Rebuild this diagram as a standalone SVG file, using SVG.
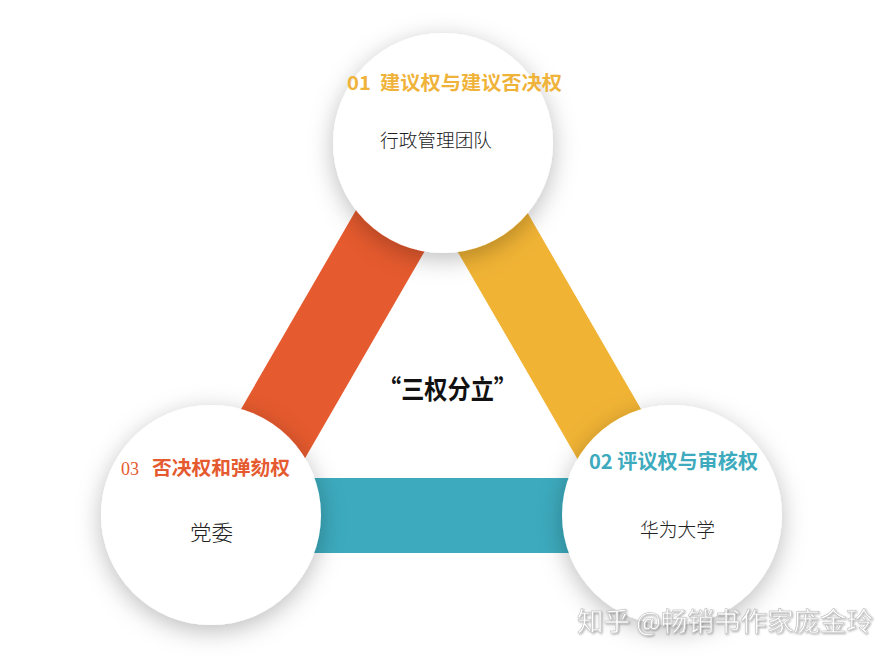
<svg xmlns="http://www.w3.org/2000/svg" width="896" height="658" viewBox="0 0 896 658">
<defs>
<filter id="sh" x="-40%" y="-40%" width="180%" height="180%">
<feDropShadow dx="0" dy="6" stdDeviation="12" flood-color="#000" flood-opacity="0.26"/>
</filter>
<filter id="wsh" x="-10%" y="-30%" width="120%" height="160%">
<feDropShadow dx="1" dy="1" stdDeviation="0.8" flood-color="#000" flood-opacity="0.35"/>
</filter>
<style>
.circle{fill:#ffffff;filter:url(#sh);}
.band{stroke-linecap:butt;fill:none;}
.head{font-family:"Noto Sans CJK SC","Liberation Sans",sans-serif;font-weight:bold;}
.body{font-family:"Noto Sans CJK SC",sans-serif;font-weight:300;fill:#222;}
.num{font-family:"Liberation Serif",serif;}
.wm{font-family:"Noto Sans CJK SC",sans-serif;fill:#ffffff;stroke:#b8b8b8;stroke-width:0.5;filter:url(#wsh);}
</style>
</defs>
<rect width="896" height="658" fill="#ffffff"/>
<g id="connectors">
<line class="band" x1="441" y1="143" x2="226" y2="515" stroke="#E55A2E" stroke-width="80"/>
<line class="band" x1="441" y1="143" x2="656" y2="515" stroke="#F0B334" stroke-width="80"/>
<rect x="211" y="478" width="461" height="75" fill="#3DAABD"/>
</g>
<g id="node-top">
<circle class="circle" cx="443" cy="143" r="110"/>
<text class="head" x="347" y="90" font-size="19" fill="#F0B33A" textLength="215" lengthAdjust="spacingAndGlyphs" xml:space="preserve">01  建议权与建议否决权</text>
<text class="body" x="380" y="147" font-size="18.5" textLength="112" lengthAdjust="spacingAndGlyphs">行政管理团队</text>
</g>
<g id="node-left">
<circle class="circle" cx="211" cy="515" r="110"/>
<text class="num" x="121" y="475" font-size="18" fill="#E55A2E">03</text>
<text class="head" x="152" y="475" font-size="19.5" fill="#E55A2E" textLength="138" lengthAdjust="spacingAndGlyphs">否决权和弹劾权</text>
<text class="body" x="190" y="540" font-size="21" textLength="43" lengthAdjust="spacingAndGlyphs">党委</text>
</g>
<g id="node-right">
<circle class="circle" cx="672" cy="515" r="110"/>
<text class="head" x="589" y="469" font-size="20" fill="#3DAABD" textLength="169" lengthAdjust="spacingAndGlyphs">02 评议权与审核权</text>
<text class="body" x="640" y="537" font-size="19" textLength="75" lengthAdjust="spacingAndGlyphs">华为大学</text>
</g>
<g id="center-label">
<text x="378" y="399" font-family="Noto Sans CJK SC,sans-serif" font-weight="bold" font-size="26" fill="#111" textLength="139" lengthAdjust="spacingAndGlyphs">“三权分立”</text>
</g>
<text class="wm" x="577" y="631" font-size="26" textLength="296" lengthAdjust="spacingAndGlyphs">知乎 @畅销书作家庞金玲</text>
</svg>
